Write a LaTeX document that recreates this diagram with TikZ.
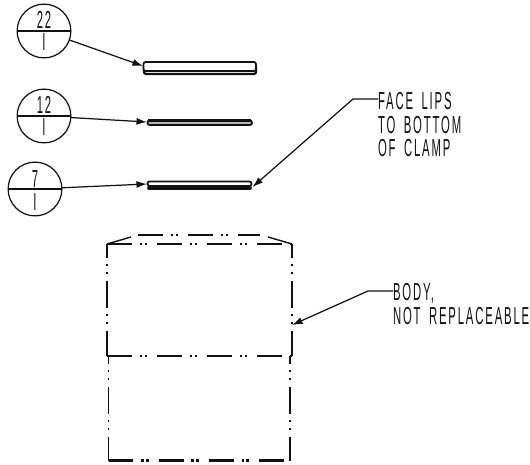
\documentclass[tikz,border=0pt]{standalone}
\usepackage{fontspec}
\usepackage{xcolor}
\usetikzlibrary{arrows.meta}
\newfontfamily\platefont[FakeStretch=0.46,LetterSpace=7.5,WordSpace=1.7]{Liberation Sans}
\definecolor{ink}{HTML}{111111}
\definecolor{web}{HTML}{B4B4B4}
\tikzset{
  balloon/.style={draw=ink, circle, line width=0.7pt, minimum size=30.6pt, inner sep=0pt, outer sep=0pt},
  split/.style={draw=ink, line width=0.7pt},
  lead/.style={draw=ink, line width=0.7pt, -{Latex[length=6pt,width=4pt]}},
  lip/.style={draw=ink, line width=1pt, rounded corners=1.2pt},
  phantom/.style={draw=ink, line width=0.8pt, dash pattern=on 14.2pt off 4.5pt on 1.3pt off 1.5pt on 1.3pt off 5.7pt},
  phantomv/.style={draw=ink, line width=0.75pt, dash pattern=on 15.3pt off 3.4pt on 1.2pt off 3.3pt on 1.2pt off 3.95pt},
  lab/.style={text=ink, font=\platefont\fontsize{14}{13.6}\selectfont, inner sep=0pt, outer sep=0pt, align=left},
  num/.style={text=ink, font=\platefont\fontsize{14}{13.6}\selectfont, inner sep=0pt},
}
\begin{document}
\begin{tikzpicture}[x=0.02cm,y=-0.02cm]
  \useasboundingbox (0,0) rectangle (530,465);
  % balloons
  \node[balloon] (balA) at (44,31) {};
  \node[balloon] (balB) at (44,116) {};
  \node[balloon] (balC) at (35,189) {};
  \foreach \X in {balA,balB,balC}
    \draw[split] (\X.west) -- (\X.east);
  \node[num] (topA) at (44,20) {22};
  \node[num] (lowA) at (44,42) {I};
  \node[num] (topB) at (44,105) {12};
  \node[num] (lowB) at (44,127.5) {I};
  \node[num] (topC) at (35,179.5) {7};
  \node[num] (lowC) at (35,202) {I};
  % lips
  \draw[lip,line width=1.3pt] (144,66) -- (144,74) -- (256,74) -- (256,66);
  \draw[lip,fill=white] (143.5,62) rectangle (256,71);
  \draw[lip,fill=web] (147.5,120.5) rectangle (252,125);
  \draw[ink,line width=1.3pt] (148,120.5) -- (251,120.5);
  \draw[ink,line width=2.2pt,line cap=round] (149,188) -- (250,188);
  \draw[lip,fill=white] (147.5,181.5) rectangle (251.5,186);
  % leaders
  \coordinate (tipA) at (143,66);
  \coordinate (tipB) at (147,122);
  \coordinate (tipC) at (147,184);
  \draw[lead] (balA) -- (tipA);
  \draw[lead] (balB) -- (tipB);
  \draw[lead] (balC) -- (tipC);
  % notes
  \node[lab,anchor=north west] (noteFace) at (378,92) {FACE LIPS\\TO BOTTOM\\OF CLAMP};
  \node[lab,anchor=north west] (noteBody) at (393,283) {BODY,\\NOT REPLACEABLE};
  \coordinate (bendFace) at (353,99);
  \coordinate (tipFace) at (252.5,187);
  \coordinate (bendBody) at (368,291);
  \coordinate (tipBody) at (292,325);
  \draw[lead] (noteFace.west |- bendFace) -- (bendFace) -- (tipFace);
  \draw[lead] (noteBody.west |- bendBody) -- (bendBody) -- (tipBody);
  % body outline
  \draw[draw=ink,line width=0.8pt] (107,244) -- (131,237);
  \draw[draw=ink,line width=0.8pt] (268,237) -- (292,244);
  \draw[phantom] (138,235) -- (260,235);
  \draw[phantom] (107,244) -- (292,244);
  \draw[phantom] (107,356) -- (292,356);
  \draw[phantom,line width=1.2pt] (108.5,460.5) -- (285,460.5);
  \draw[phantomv,dash phase=7.4pt] (107,244) -- (107,356);
  \draw[phantomv,dash phase=7.4pt] (292,244) -- (292,356);
  \draw[phantomv,dash phase=10.8pt] (108.5,356) -- (108.5,460.5);
  \draw[phantomv,dash phase=10.8pt] (290,356) -- (290,460.5);
\end{tikzpicture}
\end{document}
